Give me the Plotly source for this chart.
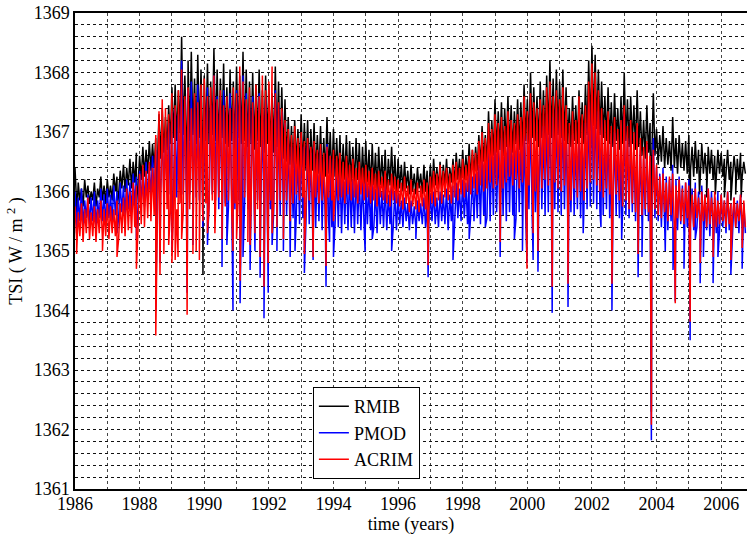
import plotly.graph_objects as go

# Total solar irradiance composites, 1986-2006.7.
# Each series is stored as 0.1-year bins: the bin maximum (hi) and bin minimum (lo),
# plus the short, deep sunspot-darkening dips listed separately.
T0 = 1986.0
STEP = 0.1

rmib_hi = [
    1366.40, 1366.15, 1366.05, 1366.20, 1366.10, 1366.00, 1366.15, 1366.05, 1366.25, 1366.10,
    1366.20, 1366.10, 1366.30, 1366.25, 1366.35, 1366.45, 1366.40, 1366.55, 1366.50, 1366.65,
    1366.60, 1366.75, 1366.70, 1366.85, 1366.80, 1366.90, 1367.30, 1367.40, 1367.25, 1367.45,
    1367.75, 1367.80, 1367.70, 1368.60, 1367.95, 1368.20, 1368.35, 1367.90, 1368.30, 1368.05,
    1367.95, 1368.15, 1367.85, 1368.40, 1368.05, 1367.90, 1368.15, 1367.75, 1368.05, 1367.85,
    1368.10, 1367.95, 1368.35, 1368.05, 1367.85, 1368.00, 1367.80, 1368.05, 1367.70, 1367.95,
    1367.80, 1367.65, 1368.10, 1367.85, 1367.75, 1367.55, 1367.25, 1367.10, 1367.20, 1367.05,
    1367.30, 1367.15, 1367.20, 1367.05, 1367.15, 1366.95, 1367.10, 1366.90, 1367.25, 1367.00,
    1367.05, 1366.90, 1366.95, 1366.80, 1366.95, 1366.85, 1366.75, 1366.90, 1366.80, 1366.75,
    1366.85, 1366.70, 1366.80, 1366.65, 1366.75, 1366.60, 1366.70, 1366.55, 1366.75, 1366.60,
    1366.55, 1366.45, 1366.50, 1366.35, 1366.45, 1366.30, 1366.40, 1366.30, 1366.45, 1366.35,
    1366.45, 1366.55, 1366.40, 1366.50, 1366.45, 1366.55, 1366.40, 1366.55, 1366.65, 1366.55,
    1366.70, 1366.60, 1366.80, 1366.70, 1366.75, 1366.95, 1367.10, 1366.95, 1367.35, 1367.20,
    1367.55, 1367.35, 1367.50, 1367.40, 1367.60, 1367.45, 1367.35, 1367.55, 1367.50, 1367.80,
    1367.55, 1368.00, 1367.75, 1367.60, 1367.85, 1367.70, 1367.95, 1368.20, 1367.90, 1368.05,
    1367.85, 1368.05, 1367.75, 1367.40, 1367.60, 1367.45, 1367.70, 1367.50, 1367.80, 1368.20,
    1368.45, 1368.30, 1368.05, 1367.85, 1367.60, 1367.75, 1367.50, 1367.65, 1367.40, 1367.60,
    1368.00, 1367.55, 1367.60, 1367.45, 1367.70, 1367.35, 1367.20, 1367.45, 1367.15, 1367.65,
    1367.05, 1366.95, 1367.10, 1366.90, 1366.85, 1367.25, 1366.90, 1366.95, 1366.80, 1366.85,
    1366.95, 1366.75, 1366.85, 1366.70, 1366.80, 1366.65, 1366.75, 1366.70, 1366.60, 1366.70,
    1366.65, 1366.55, 1366.70, 1366.50, 1366.60, 1366.55, 1366.65, 1366.50,
]
rmib_lo = [
    1365.80, 1365.85, 1365.75, 1365.90, 1365.80, 1365.85, 1365.75, 1365.90, 1365.85, 1365.80,
    1365.90, 1365.85, 1366.00, 1365.95, 1366.05, 1366.00, 1366.10, 1366.05, 1366.15, 1366.10,
    1366.20, 1366.25, 1366.30, 1366.35, 1366.40, 1366.45, 1366.55, 1366.65, 1366.70, 1366.80,
    1366.90, 1366.85, 1367.00, 1366.95, 1366.90, 1366.85, 1366.95, 1366.80, 1366.90, 1366.75,
    1366.85, 1366.80, 1366.95, 1366.85, 1366.70, 1366.90, 1366.80, 1366.75, 1366.85, 1366.70,
    1366.90, 1366.80, 1366.85, 1366.75, 1366.80, 1366.70, 1366.85, 1366.75, 1366.65, 1366.80,
    1366.70, 1366.65, 1366.75, 1366.60, 1366.55, 1366.50, 1366.45, 1366.40, 1366.45, 1366.35,
    1366.40, 1366.35, 1366.30, 1366.35, 1366.25, 1366.30, 1366.20, 1366.25, 1366.30, 1366.20,
    1366.25, 1366.20, 1366.15, 1366.20, 1366.10, 1366.15, 1366.10, 1366.20, 1366.05, 1366.10,
    1366.15, 1366.05, 1366.10, 1366.00, 1366.10, 1366.05, 1366.00, 1366.10, 1366.05, 1365.95,
    1366.05, 1366.00, 1366.05, 1365.95, 1366.00, 1365.95, 1366.05, 1365.95, 1366.00, 1366.05,
    1366.00, 1366.10, 1366.05, 1366.00, 1366.10, 1366.05, 1366.15, 1366.10, 1366.20, 1366.15,
    1366.20, 1366.25, 1366.20, 1366.30, 1366.35, 1366.40, 1366.50, 1366.45, 1366.55, 1366.60,
    1366.65, 1366.70, 1366.60, 1366.75, 1366.70, 1366.65, 1366.80, 1366.70, 1366.75, 1366.85,
    1366.80, 1366.90, 1366.85, 1366.75, 1366.90, 1366.85, 1366.95, 1366.90, 1366.85, 1366.95,
    1366.90, 1366.85, 1366.80, 1366.75, 1366.85, 1366.80, 1366.90, 1366.80, 1366.95, 1367.00,
    1367.10, 1367.05, 1366.95, 1366.90, 1366.85, 1366.80, 1366.75, 1366.85, 1366.70, 1366.80,
    1366.85, 1366.75, 1366.80, 1366.70, 1366.75, 1366.60, 1366.55, 1366.65, 1366.50, 1366.60,
    1366.45, 1366.50, 1366.40, 1366.45, 1366.35, 1366.40, 1366.30, 1366.40, 1366.35, 1366.30,
    1366.35, 1366.25, 1366.30, 1366.20, 1366.30, 1366.25, 1366.30, 1366.20, 1366.25, 1366.30,
    1366.25, 1366.30, 1366.20, 1366.25, 1366.30, 1366.20, 1366.25, 1366.30,
]
rmib_dip_t = [1986.05, 1987.30, 1987.90, 1988.50, 1989.47, 1989.96, 1996.93, 2003.84,
              2005.04, 2005.33, 2005.55, 2005.82, 2006.10, 2006.30, 2006.45, 2006.62]
rmib_dip_v = [1365.50, 1365.70, 1365.80, 1365.60, 1365.30, 1364.60, 1365.20, 1362.30,
              1365.00, 1365.95, 1365.90, 1365.95, 1365.90, 1365.85, 1365.95, 1365.90]

pmod_hi = [
    1366.00, 1365.90, 1366.05, 1365.85, 1365.95, 1365.90, 1366.00, 1365.85, 1366.05, 1365.95,
    1366.05, 1365.95, 1366.10, 1366.00, 1366.15, 1366.10, 1366.20, 1366.15, 1366.30, 1366.25,
    1366.35, 1366.40, 1366.50, 1366.45, 1366.60, 1366.70, 1366.95, 1367.05, 1366.90, 1367.15,
    1367.35, 1367.40, 1367.30, 1368.20, 1367.55, 1367.70, 1367.85, 1367.50, 1367.80, 1367.60,
    1367.50, 1367.75, 1367.45, 1367.95, 1367.60, 1367.50, 1367.70, 1367.35, 1367.65, 1367.45,
    1367.70, 1367.55, 1367.95, 1367.65, 1367.45, 1367.60, 1367.40, 1367.65, 1367.30, 1367.55,
    1367.40, 1367.25, 1367.70, 1367.45, 1367.35, 1367.15, 1366.90, 1366.75, 1366.85, 1366.70,
    1366.90, 1366.75, 1366.80, 1366.65, 1366.75, 1366.55, 1366.70, 1366.50, 1366.80, 1366.60,
    1366.55, 1366.40, 1366.45, 1366.30, 1366.40, 1366.30, 1366.20, 1366.35, 1366.25, 1366.20,
    1366.25, 1366.10, 1366.20, 1366.05, 1366.15, 1366.00, 1366.10, 1365.95, 1366.10, 1366.00,
    1365.95, 1365.85, 1365.90, 1365.80, 1365.85, 1365.75, 1365.85, 1365.80, 1365.90, 1365.85,
    1365.95, 1366.00, 1365.90, 1366.00, 1365.95, 1366.05, 1365.95, 1366.10, 1366.15, 1366.05,
    1366.20, 1366.15, 1366.30, 1366.25, 1366.30, 1366.45, 1366.60, 1366.50, 1366.80, 1366.70,
    1366.95, 1366.80, 1366.90, 1366.85, 1367.00, 1366.90, 1366.80, 1366.95, 1366.90, 1367.15,
    1366.95, 1367.35, 1367.15, 1367.00, 1367.20, 1367.10, 1367.30, 1367.55, 1367.25, 1367.40,
    1367.20, 1367.40, 1367.10, 1366.80, 1366.95, 1366.85, 1367.05, 1366.90, 1367.15, 1367.50,
    1367.75, 1367.60, 1367.35, 1367.20, 1366.95, 1367.10, 1366.85, 1367.00, 1366.80, 1366.95,
    1367.30, 1366.90, 1366.95, 1366.80, 1367.00, 1366.70, 1366.55, 1366.80, 1366.50, 1366.90,
    1366.40, 1366.30, 1366.40, 1366.25, 1366.20, 1366.45, 1366.20, 1366.25, 1366.10, 1366.15,
    1366.20, 1366.05, 1366.15, 1366.00, 1366.10, 1365.95, 1366.05, 1366.00, 1365.90, 1366.00,
    1365.95, 1365.85, 1366.00, 1365.80, 1365.90, 1365.85, 1365.95, 1365.80,
]
pmod_lo = [
    1365.45, 1365.50, 1365.40, 1365.55, 1365.45, 1365.50, 1365.40, 1365.55, 1365.50, 1365.45,
    1365.55, 1365.50, 1365.60, 1365.55, 1365.65, 1365.60, 1365.70, 1365.65, 1365.75, 1365.70,
    1365.80, 1365.75, 1365.85, 1365.90, 1365.85, 1365.95, 1366.00, 1365.90, 1366.05, 1365.95,
    1366.00, 1365.90, 1366.05, 1365.95, 1365.85, 1365.95, 1365.80, 1365.90, 1365.85, 1365.75,
    1365.90, 1365.80, 1365.95, 1365.85, 1365.70, 1365.90, 1365.80, 1365.75, 1365.85, 1365.70,
    1365.85, 1365.75, 1365.80, 1365.70, 1365.80, 1365.65, 1365.85, 1365.75, 1365.60, 1365.80,
    1365.70, 1365.65, 1365.75, 1365.60, 1365.55, 1365.60, 1365.50, 1365.55, 1365.60, 1365.45,
    1365.55, 1365.50, 1365.45, 1365.55, 1365.40, 1365.50, 1365.35, 1365.45, 1365.50, 1365.40,
    1365.45, 1365.40, 1365.30, 1365.45, 1365.35, 1365.40, 1365.30, 1365.45, 1365.35, 1365.40,
    1365.45, 1365.35, 1365.40, 1365.30, 1365.45, 1365.40, 1365.35, 1365.45, 1365.40, 1365.35,
    1365.45, 1365.40, 1365.50, 1365.35, 1365.45, 1365.40, 1365.50, 1365.45, 1365.40, 1365.45,
    1365.50, 1365.45, 1365.40, 1365.50, 1365.45, 1365.35, 1365.50, 1365.45, 1365.55, 1365.50,
    1365.55, 1365.45, 1365.60, 1365.50, 1365.55, 1365.45, 1365.60, 1365.55, 1365.50, 1365.60,
    1365.65, 1365.55, 1365.60, 1365.50, 1365.65, 1365.60, 1365.55, 1365.65, 1365.50, 1365.60,
    1365.70, 1365.60, 1365.65, 1365.55, 1365.70, 1365.60, 1365.65, 1365.55, 1365.70, 1365.65,
    1365.60, 1365.70, 1365.55, 1365.65, 1365.60, 1365.70, 1365.55, 1365.65, 1365.70, 1365.75,
    1365.80, 1365.70, 1365.65, 1365.60, 1365.70, 1365.55, 1365.65, 1365.60, 1365.55, 1365.65,
    1365.60, 1365.55, 1365.65, 1365.50, 1365.55, 1365.45, 1365.60, 1365.50, 1365.40, 1365.55,
    1365.50, 1365.40, 1365.45, 1365.35, 1365.50, 1365.40, 1365.35, 1365.45, 1365.30, 1365.40,
    1365.45, 1365.35, 1365.40, 1365.30, 1365.40, 1365.35, 1365.25, 1365.40, 1365.30, 1365.35,
    1365.40, 1365.30, 1365.35, 1365.25, 1365.40, 1365.30, 1365.35, 1365.30,
]
pmod_dip_t = [
    1986.05, 1987.30, 1987.90, 1988.50, 1988.63, 1989.00, 1989.47, 1989.65, 1989.96, 1990.10,
    1990.55, 1990.70, 1990.89, 1991.11, 1991.20, 1991.42, 1991.57, 1991.73, 1991.85, 1991.98,
    1992.10, 1992.25, 1992.45, 1992.66, 1992.81, 1993.10, 1993.37, 1993.77, 1993.88, 1994.00,
    1994.98, 1995.20, 1995.80, 1996.55, 1996.93, 1997.70, 1998.20, 1998.70, 1999.16, 1999.60,
    1999.85, 1999.99, 2000.18, 2000.33, 2000.77, 2001.26, 2001.73, 2002.28, 2002.62, 2002.92,
    2003.43, 2003.55, 2003.84, 2004.27, 2004.51, 2004.58, 2004.85, 2005.04, 2005.20, 2005.35,
    2005.45, 2005.75, 2005.90, 2006.30, 2006.65,
]
pmod_dip_v = [
    1365.30, 1365.30, 1365.20, 1364.00, 1364.80, 1365.00, 1364.30, 1365.10, 1365.40, 1365.10,
    1364.73, 1365.10, 1364.00, 1364.12, 1364.90, 1364.68, 1365.00, 1364.55, 1363.87, 1364.30,
    1365.10, 1365.00, 1365.00, 1364.90, 1365.00, 1364.63, 1364.85, 1364.40, 1365.15, 1364.90,
    1364.99, 1365.20, 1365.00, 1365.20, 1364.56, 1364.85, 1365.20, 1365.40, 1364.90, 1365.20,
    1365.00, 1364.80, 1364.85, 1364.65, 1363.96, 1364.06, 1365.30, 1365.40, 1364.00, 1365.20,
    1364.56, 1364.90, 1361.82, 1365.00, 1364.68, 1364.15, 1364.70, 1363.50, 1365.20, 1364.46,
    1364.90, 1364.46, 1364.90, 1364.60, 1364.70,
]

acrim_hi = [
    1365.75, 1365.65, 1365.80, 1365.70, 1365.90, 1365.65, 1365.75, 1365.70, 1365.85, 1365.70,
    1365.80, 1365.75, 1365.70, 1365.85, 1365.80, 1365.90, 1366.05, 1366.00, 1366.15, 1366.10,
    1366.30, 1366.45, 1366.35, 1366.50, 1366.40, 1366.95, 1367.35, 1367.55, 1367.40, 1367.30,
    1367.65, 1367.45, 1367.70, 1368.05, 1367.60, 1367.75, 1367.40, 1367.65, 1367.50, 1367.80,
    1367.90, 1367.60, 1367.75, 1367.95, 1367.55, 1367.70, 1367.45, 1367.60, 1367.40, 1367.75,
    1367.65, 1368.10, 1367.85, 1367.55, 1367.75, 1367.50, 1367.80, 1367.60, 1367.95, 1367.70,
    1367.85, 1368.10, 1367.65, 1367.50, 1367.40, 1367.20, 1367.05, 1366.95, 1367.10, 1366.90,
    1367.00, 1366.85, 1366.90, 1366.75, 1366.85, 1366.70, 1366.80, 1366.65, 1366.75, 1366.60,
    1366.70, 1366.60, 1366.65, 1366.50, 1366.60, 1366.45, 1366.55, 1366.40, 1366.50, 1366.40,
    1366.45, 1366.35, 1366.40, 1366.30, 1366.35, 1366.25, 1366.35, 1366.20, 1366.30, 1366.25,
    1366.20, 1366.15, 1366.25, 1366.10, 1366.20, 1366.05, 1366.15, 1366.10, 1366.20, 1366.15,
    1366.25, 1366.35, 1366.30, 1366.45, 1366.35, 1366.40, 1366.30, 1366.45, 1366.50, 1366.40,
    1366.55, 1366.45, 1366.60, 1366.70, 1366.65, 1366.85, 1367.00, 1366.90, 1367.15, 1367.05,
    1367.30, 1367.15, 1367.25, 1367.10, 1367.35, 1367.20, 1367.15, 1367.30, 1367.25, 1367.60,
    1367.35, 1367.65, 1367.50, 1367.40, 1367.55, 1367.45, 1367.75, 1367.85, 1367.60, 1367.70,
    1367.55, 1367.75, 1367.45, 1367.15, 1367.35, 1367.20, 1367.60, 1367.30, 1367.45, 1367.85,
    1368.15, 1368.00, 1367.70, 1367.40, 1367.20, 1367.35, 1367.10, 1367.25, 1367.05, 1367.20,
    1367.45, 1367.10, 1367.20, 1367.00, 1367.15, 1366.90, 1366.75, 1366.85, 1366.60, 1366.70,
    1366.45, 1366.25, 1366.30, 1366.15, 1366.25, 1366.30, 1366.10, 1366.20, 1366.05, 1366.15,
    1366.10, 1365.95, 1366.05, 1365.90, 1366.00, 1365.95, 1366.05, 1365.90, 1366.00, 1365.85,
    1365.95, 1365.85, 1366.00, 1365.80, 1365.90, 1365.80, 1365.95, 1365.85,
]
acrim_lo = [
    1365.20, 1365.25, 1365.15, 1365.30, 1365.20, 1365.25, 1365.15, 1365.30, 1365.20, 1365.25,
    1365.20, 1365.30, 1365.25, 1365.20, 1365.30, 1365.25, 1365.35, 1365.30, 1365.40, 1365.35,
    1365.45, 1365.40, 1365.55, 1365.50, 1365.60, 1365.55, 1365.65, 1365.60, 1365.70, 1365.65,
    1365.75, 1365.70, 1365.80, 1365.65, 1365.85, 1365.70, 1365.80, 1365.75, 1365.85, 1365.70,
    1365.80, 1365.75, 1365.85, 1365.70, 1365.90, 1365.80, 1365.75, 1365.85, 1365.70, 1365.80,
    1365.85, 1365.75, 1365.90, 1365.80, 1365.75, 1365.85, 1365.70, 1365.80, 1365.90, 1365.75,
    1365.85, 1365.80, 1365.90, 1365.85, 1365.95, 1365.85, 1365.90, 1365.80, 1365.95, 1365.85,
    1365.90, 1365.80, 1365.85, 1365.75, 1365.90, 1365.80, 1365.85, 1365.75, 1365.90, 1365.85,
    1365.95, 1365.85, 1365.90, 1365.80, 1365.95, 1365.85, 1365.90, 1365.80, 1365.95, 1365.85,
    1365.90, 1365.80, 1365.85, 1365.75, 1365.90, 1365.85, 1365.80, 1365.75, 1365.85, 1365.80,
    1365.75, 1365.70, 1365.80, 1365.65, 1365.75, 1365.70, 1365.65, 1365.75, 1365.70, 1365.65,
    1365.80, 1365.75, 1365.85, 1365.80, 1365.90, 1365.85, 1365.80, 1365.90, 1365.85, 1365.95,
    1365.90, 1366.00, 1365.95, 1366.05, 1365.95, 1366.10, 1366.00, 1366.05, 1366.15, 1366.05,
    1366.10, 1366.20, 1366.05, 1366.15, 1366.25, 1366.10, 1366.20, 1366.05, 1366.15, 1366.25,
    1366.10, 1366.20, 1366.00, 1366.15, 1366.05, 1366.20, 1366.10, 1366.00, 1366.15, 1366.05,
    1366.00, 1366.10, 1365.95, 1365.85, 1366.05, 1365.90, 1366.00, 1365.85, 1366.05, 1366.15,
    1366.20, 1366.10, 1366.00, 1365.90, 1366.05, 1365.95, 1365.80, 1365.95, 1365.85, 1365.75,
    1365.85, 1365.70, 1365.80, 1365.65, 1365.75, 1365.60, 1365.70, 1365.65, 1365.55, 1365.70,
    1365.60, 1365.55, 1365.65, 1365.50, 1365.60, 1365.45, 1365.55, 1365.50, 1365.45, 1365.55,
    1365.50, 1365.40, 1365.55, 1365.45, 1365.50, 1365.40, 1365.45, 1365.50, 1365.40, 1365.45,
    1365.50, 1365.40, 1365.45, 1365.55, 1365.40, 1365.50, 1365.45, 1365.40,
]
acrim_dip_t = [
    1986.05, 1986.85, 1987.30, 1987.90, 1988.50, 1988.63, 1988.75, 1988.90, 1989.00, 1989.10,
    1989.19, 1989.30, 1989.47, 1989.65, 1989.75, 1989.85, 1989.96, 1990.10, 1990.33, 1990.55,
    1990.89, 1991.00, 1991.11, 1991.35, 1991.42, 1991.57, 1991.73, 1991.85, 1991.98, 1992.10,
    1992.25, 1992.45, 1992.66, 1993.10, 1993.37, 1993.77, 1994.00, 1996.93, 1999.16, 1999.99,
    2000.18, 2000.33, 2000.77, 2001.26, 2002.62, 2003.43, 2003.84, 2004.58, 2005.04, 2005.35,
    2005.75, 2006.30, 2006.65,
]
acrim_dip_v = [
    1364.95, 1365.00, 1364.90, 1364.70, 1363.58, 1364.60, 1364.95, 1365.10, 1364.80, 1364.85,
    1364.90, 1365.20, 1363.93, 1364.95, 1365.00, 1364.85, 1365.50, 1365.30, 1365.30, 1365.20,
    1365.00, 1365.20, 1364.50, 1365.15, 1365.10, 1365.30, 1364.90, 1364.40, 1364.80, 1365.30,
    1365.40, 1365.20, 1365.50, 1364.95, 1364.90, 1364.75, 1365.50, 1364.76, 1365.15, 1364.70,
    1365.30, 1365.00, 1364.40, 1364.45, 1364.45, 1364.95, 1362.08, 1364.12, 1363.81, 1364.80,
    1364.90, 1364.85, 1365.05,
]

series = [
    ("RMIB", "#000000", rmib_hi, rmib_lo, rmib_dip_t, rmib_dip_v),
    ("PMOD", "#0000ff", pmod_hi, pmod_lo, pmod_dip_t, pmod_dip_v),
    ("ACRIM", "#ff0000", acrim_hi, acrim_lo, acrim_dip_t, acrim_dip_v),
]

FONT = "Liberation Serif"


def trace_points(hi, lo, dip_t, dip_v):
    """Interleave bin maxima/minima with the listed dips, ordered in time."""
    pts = []
    for i, (h, l) in enumerate(zip(hi, lo)):
        t = T0 + i * STEP
        pts.append((round(t, 3), h))
        pts.append((round(t + STEP / 2, 3), l))
    pts.extend(zip(dip_t, dip_v))
    pts.sort(key=lambda p: p[0])
    return [p[0] for p in pts], [p[1] for p in pts]


fig = go.Figure()
for name, color, hi, lo, dt, dv in series:
    x, y = trace_points(hi, lo, dt, dv)
    fig.add_trace(go.Scatter(
        x=x, y=y, mode="lines", name=name,
        line=dict(color=color, width=1.5, simplify=False),
    ))

fig.update_layout(
    width=747, height=535,
    margin=dict(l=75, r=0, t=13, b=46),
    paper_bgcolor="white", plot_bgcolor="white",
    font=dict(family=FONT, size=18, color="black"),
    showlegend=True,
    legend=dict(
        x=0.354, y=0.214, xanchor="left", yanchor="top",
        bgcolor="white", bordercolor="black", borderwidth=1,
        font=dict(family=FONT, size=18, color="black"),
        itemwidth=30, tracegroupgap=0,
    ),
)

fig.update_xaxes(
    range=[1986, 2006.8], tickmode="linear", tick0=1986, dtick=2,
    showline=True, linecolor="black", linewidth=1.5, mirror=True,
    showgrid=True, gridcolor="#444444", griddash="dot", gridwidth=1,
    minor=dict(dtick=1, tick0=1986, showgrid=True, gridcolor="#444444",
               griddash="dot", gridwidth=1),
    ticks="", zeroline=False, ticklabelstandoff=-2,
    tickfont=dict(family=FONT, size=18, color="black"),
    title=dict(text="time (years)", font=dict(family=FONT, size=18), standoff=2),
)
fig.update_yaxes(
    range=[1361, 1369], tickmode="linear", tick0=1361, dtick=1,
    showline=True, linecolor="black", linewidth=1.5, mirror=False,
    showgrid=True, gridcolor="#111111", griddash="dot", gridwidth=1,
    minor=dict(dtick=0.2, tick0=1361, showgrid=True, gridcolor="#111111",
               griddash="dot", gridwidth=1),
    ticks="", zeroline=False,
    tickfont=dict(family=FONT, size=18, color="black"),
    title=dict(text="TSI ( W / m <sup>2</sup> )", font=dict(family=FONT, size=18), standoff=6),
)

fig.write_html("out.html")
